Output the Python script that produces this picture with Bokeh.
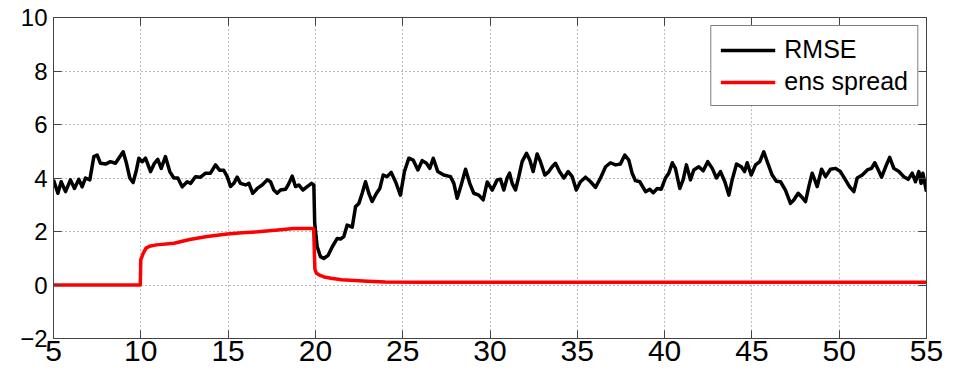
from bokeh.plotting import figure
from bokeh.models import Legend, LegendItem, LinearAxis, FixedTicker, Range1d, ColumnDataSource
from bokeh.embed import file_html
from bokeh.resources import INLINE

# --- data -----------------------------------------------------------------
rmse_t = [5.00, 5.25, 5.44, 5.69, 5.97, 6.20, 6.45, 6.64, 6.83, 7.08, 7.31, 7.50, 7.69, 7.98,
          8.26, 8.55, 8.74, 8.99, 9.18, 9.37, 9.56, 9.75, 9.89, 10.08, 10.27, 10.56, 10.78,
          10.97, 11.17, 11.41, 11.66, 11.89, 12.12, 12.37, 12.66, 12.85, 13.13, 13.42, 13.71,
          13.99, 14.28, 14.51, 14.75, 14.95, 15.14, 15.33, 15.52, 15.71, 16.00, 16.19, 16.41,
          16.67, 16.95, 17.24, 17.43, 17.62, 17.81, 18.00, 18.29, 18.44, 18.67, 18.86, 19.05,
          19.28, 19.53, 19.78, 19.91, 19.96, 20.10, 20.29, 20.48, 20.73, 20.96, 21.25, 21.44,
          21.63, 21.82, 22.11, 22.30, 22.49, 22.68, 22.87, 23.06, 23.25, 23.50, 23.69, 23.88,
          24.11, 24.34, 24.59, 24.87, 25.10, 25.35, 25.60, 25.87, 26.12, 26.36, 26.55, 26.75,
          27.01, 27.35, 27.74, 27.93, 28.12, 28.35, 28.60, 28.84, 29.07, 29.36, 29.61, 29.84,
          30.13, 30.41, 30.60, 30.79, 30.98, 31.12, 31.27, 31.46, 31.65, 31.84, 32.09, 32.28,
          32.47, 32.70, 32.89, 33.14, 33.37, 33.56, 33.75, 33.98, 34.23, 34.48, 34.71, 34.94,
          35.18, 35.47, 35.76, 36.04, 36.33, 36.62, 36.90, 37.19, 37.47, 37.72, 37.95, 38.14,
          38.33, 38.58, 38.91, 39.15, 39.35, 39.58, 39.81, 40.05, 40.24, 40.44, 40.62, 40.87,
          41.06, 41.25, 41.48, 41.67, 41.96, 42.21, 42.47, 42.73, 42.97, 43.20, 43.45, 43.68,
          43.87, 44.12, 44.39, 44.58, 44.73, 44.96, 45.21, 45.45, 45.68, 45.91, 46.16, 46.40,
          46.64, 46.92, 47.21, 47.40, 47.65, 47.84, 48.07, 48.26, 48.45, 48.60, 48.74, 48.99,
          49.22, 49.50, 49.79, 50.07, 50.36, 50.59, 50.84, 51.03, 51.32, 51.61, 51.85, 52.04,
          52.24, 52.43, 52.66, 52.89, 53.13, 53.42, 53.70, 53.95, 54.18, 54.37, 54.56, 54.69,
          54.79, 55.00]
rmse_v = [3.93, 3.43, 3.86, 3.49, 3.93, 3.61, 3.95, 3.67, 4.00, 3.93, 4.80, 4.86, 4.55, 4.52,
          4.61, 4.55, 4.74, 4.98, 4.55, 4.00, 3.83, 4.30, 4.74, 4.61, 4.74, 4.24, 4.55,
          4.70, 4.36, 4.80, 4.24, 4.00, 4.00, 3.67, 3.86, 3.80, 4.05, 4.03, 4.18,
          4.18, 4.49, 4.29, 4.29, 4.05, 3.68, 3.80, 4.03, 3.80, 3.74, 3.80, 3.43,
          3.61, 3.74, 3.93, 3.86, 3.55, 3.43, 3.55, 3.58, 3.74, 4.07, 3.68, 3.74,
          3.55, 3.68, 3.80, 3.74, 2.31, 1.44, 1.06, 0.99, 1.11, 1.42, 1.74, 1.72,
          1.81, 2.24, 2.16, 2.93, 3.05, 3.43, 3.86, 3.43, 3.12, 3.43, 3.61, 4.11,
          4.05, 4.21, 3.86, 3.36, 4.24, 4.74, 4.67, 4.30, 4.65, 4.55, 4.36, 4.74,
          4.24, 4.11, 4.05, 3.80, 3.24, 3.74, 4.33, 3.80, 3.43, 3.36, 3.18, 3.85,
          3.55, 3.93, 3.95, 3.55, 4.00, 4.18, 3.80, 3.55, 4.05, 4.61, 4.92, 4.67,
          4.24, 4.90, 4.61, 4.11, 4.24, 4.42, 4.55, 4.24, 4.00, 4.24, 4.05, 3.55,
          3.86, 4.03, 3.86, 3.65, 4.00, 4.42, 4.57, 4.49, 4.52, 4.86, 4.67, 4.18,
          3.90, 3.86, 3.49, 3.58, 3.45, 3.61, 3.58, 4.00, 4.18, 4.57, 4.36, 3.61,
          3.93, 4.49, 3.93, 4.30, 4.42, 4.27, 4.61, 4.36, 4.00, 4.24, 3.86, 3.36,
          3.93, 4.52, 4.42, 4.24, 4.57, 4.11, 4.49, 4.61, 4.98, 4.55, 4.11, 3.88,
          3.86, 3.55, 3.05, 3.18, 3.43, 3.30, 3.12, 3.68, 4.18, 3.93, 3.68, 4.33,
          4.05, 4.33, 4.36, 4.24, 3.93, 3.68, 3.49, 4.00, 4.11, 4.30, 4.36, 4.57,
          4.30, 4.03, 4.42, 4.77, 4.36, 4.24, 4.05, 3.95, 4.18, 3.86, 4.24, 3.80,
          4.18, 3.49]

spread_t = [5.00, 9.97, 10.00, 10.15, 10.30, 10.50, 10.90, 11.90, 12.80, 13.80, 14.95, 15.80,
            16.70, 17.70, 18.76, 19.90, 19.97, 20.05, 20.23, 20.50, 20.90, 21.50, 22.00,
            23.00, 24.00, 26.00, 55.00]
spread_v = [0.00, 0.00, 0.95, 1.20, 1.38, 1.45, 1.50, 1.56, 1.70, 1.81, 1.91, 1.95,
            1.99, 2.05, 2.11, 2.11, 0.60, 0.45, 0.37, 0.30, 0.25, 0.20, 0.18,
            0.14, 0.11, 0.10, 0.10]

x_ticks = [5, 10, 15, 20, 25, 30, 35, 40, 45, 50, 55]
x_tick_labels = ["5", "10", "15", "20", "25", "30", "35", "40", "45", "50", "55"]
y_ticks = [-2, 0, 2, 4, 6, 8, 10]
y_tick_labels = ["\u22122", "0", "2", "4", "6", "8", "10"]

series_names = ["RMSE", "ens spread"]
series_colors = ["#000000", "#ff0000"]

FONT = "Liberation Sans"
NARROW = "'Liberation Sans Narrow', 'Liberation Sans'"

# --- figure ---------------------------------------------------------------
p = figure(width=954, height=375, output_backend="svg", toolbar_location=None,
           x_range=Range1d(5, 55), y_range=Range1d(-2, 10),
           min_border_left=53, min_border_right=28, min_border_top=17, min_border_bottom=37)
p.outline_line_color = "#444444"
p.background_fill_color = "white"
p.border_fill_color = "white"

xt = FixedTicker(ticks=x_ticks)
yt = FixedTicker(ticks=y_ticks)
x_over = {t: s for t, s in zip(x_ticks, x_tick_labels)}
y_over = {t: s for t, s in zip(y_ticks, y_tick_labels)}


def style_axis(ax, ticker, overrides, font, size, standoff):
    ax.ticker = ticker
    ax.major_label_overrides = overrides
    ax.axis_line_color = "#444444"
    ax.major_tick_line_color = "#444444"
    ax.major_tick_in = 8
    ax.major_tick_out = 0
    ax.minor_tick_in = 0
    ax.minor_tick_out = 0
    ax.major_label_text_font = font
    ax.major_label_text_font_size = size
    ax.major_label_text_color = "black"
    ax.major_label_standoff = standoff


style_axis(p.xaxis[0], xt, x_over, NARROW, "30px", 2)
style_axis(p.yaxis[0], yt, y_over, FONT, "24px", 6)

# mirrored tick marks on top and right sides (no labels)
top = LinearAxis()
style_axis(top, FixedTicker(ticks=x_ticks), {}, FONT, "1px", 0)
top.major_label_text_alpha = 0
p.add_layout(top, "above")
right = LinearAxis()
style_axis(right, FixedTicker(ticks=y_ticks), {}, FONT, "1px", 0)
right.major_label_text_alpha = 0
p.add_layout(right, "right")

for g in (p.xgrid[0], p.ygrid[0]):
    g.grid_line_color = "#777777"
    g.grid_line_dash = "1 3"
    g.grid_line_width = 1
p.xgrid[0].ticker = FixedTicker(ticks=x_ticks)
p.ygrid[0].ticker = FixedTicker(ticks=y_ticks)

src_rmse = ColumnDataSource(dict(t=rmse_t, v=rmse_v))
src_spread = ColumnDataSource(dict(t=spread_t, v=spread_v))

r1 = p.line("t", "v", source=src_rmse, line_color=series_colors[0], line_width=3.5,
            line_join="round")
r2 = p.line("t", "v", source=src_spread, line_color=series_colors[1], line_width=3.5,
            line_join="round")

legend = Legend(items=[LegendItem(label=series_names[0], renderers=[r1]),
                       LegendItem(label=series_names[1], renderers=[r2])],
                location="top_right")
legend.label_text_font = FONT
legend.label_text_font_size = "25px"
legend.label_text_color = "black"
legend.glyph_width = 55
legend.glyph_height = 20
legend.label_height = 28
legend.label_standoff = 9
legend.padding = 9
legend.spacing = 3
legend.margin = 8
legend.border_line_color = "black"
legend.border_line_width = 1
legend.background_fill_color = "white"
legend.background_fill_alpha = 1.0
p.add_layout(legend)

open("out.html", "w").write(file_html(p, INLINE))
